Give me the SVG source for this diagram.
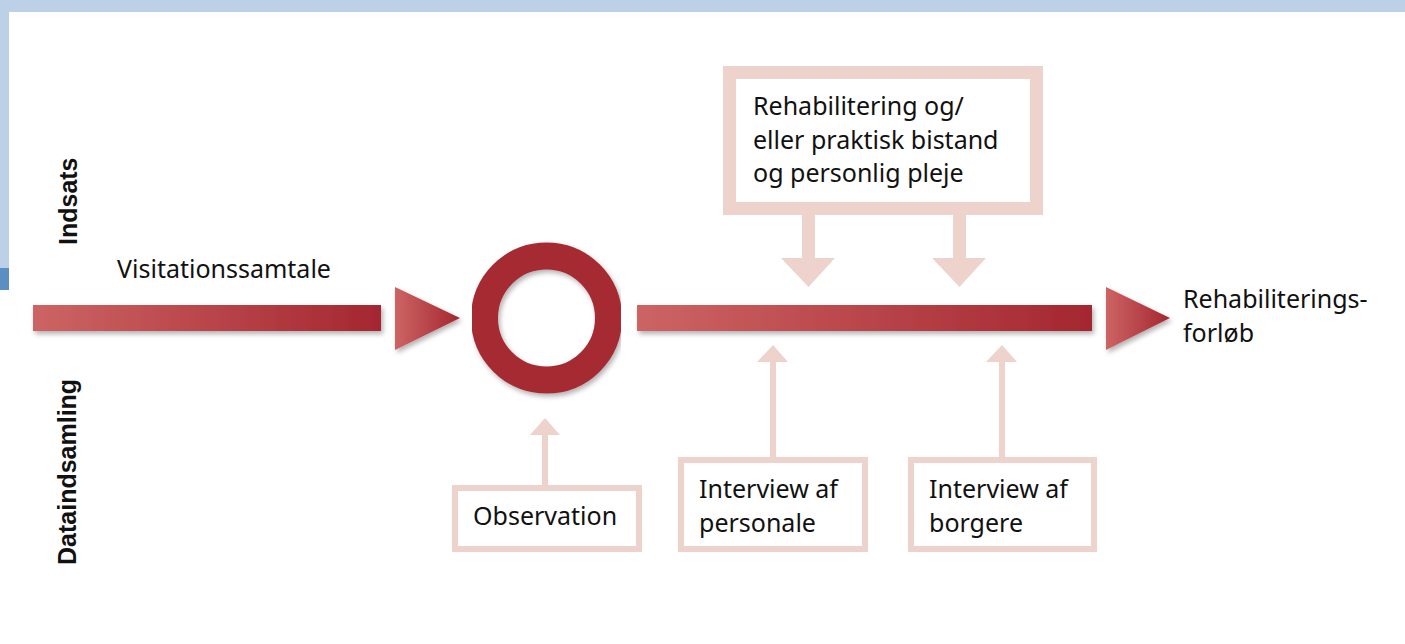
<svg xmlns="http://www.w3.org/2000/svg" width="1405" height="644" viewBox="0 0 1405 644">
<style>
.t{font-family:"Noto Sans","Open Sans",sans-serif;font-size:25px;fill:#111}
.v{font-family:"Liberation Sans",Arial,sans-serif;font-weight:bold;font-size:25px;fill:#111}
.pk{fill:#eed2cc}
.box{fill:#fff;stroke:#eed2cc}
</style>
<defs>
<linearGradient id="bar" x1="0" y1="0" x2="1" y2="0">
<stop offset="0" stop-color="#cd6464"/>
<stop offset="1" stop-color="#a4272f"/>
</linearGradient>
<filter id="sh" x="-10%" y="-20%" width="120%" height="160%">
<feDropShadow dx="2" dy="3" stdDeviation="2.5" flood-color="#000" flood-opacity="0.3"/>
</filter>
</defs>
<rect width="1405" height="644" fill="#fff"/>
<g id="frame">
<rect x="0" y="0" width="1405" height="12" fill="#bcd0e7"/>
<rect x="0" y="0" width="9" height="268" fill="#bcd0e7"/>
<rect x="0" y="268" width="9" height="22" fill="#5b8fc2"/>
</g>
<g id="axis-labels">
<text class="v" transform="translate(77,245) rotate(-90)">Indsats</text>
<text class="v" transform="translate(76,565) rotate(-90)">Dataindsamling</text>
</g>
<g id="connectors">
<rect x="33" y="305" width="348" height="26" fill="url(#bar)" filter="url(#sh)"/>
<polygon points="395,287 460,318 395,350" fill="url(#bar)" filter="url(#sh)"/>
<rect x="637" y="305" width="455" height="26" fill="url(#bar)" filter="url(#sh)"/>
<polygon points="1106,287 1170,318 1106,350" fill="url(#bar)" filter="url(#sh)"/>
<path class="pk" d="M802,215 H815 V258 H835 L808.5,287 L781,258 H802 Z"/>
<path class="pk" d="M953,215 H966 V258 H986 L959.5,287 L932,258 H953 Z"/>
<path class="pk" d="M542,485 V435 H530 L545,418 L560,435 H548 V485 Z"/>
<path class="pk" d="M770,457 V362 H757 L773,345 L788,362 H776 V457 Z"/>
<path class="pk" d="M999,457 V362 H986 L1002,345 L1017,362 H1005 V457 Z"/>
</g>
<g id="visitationssamtale">
<text class="t" x="117" y="278">Visitationssamtale</text>
</g>
<g id="ring">
<circle cx="546.5" cy="318" r="62" fill="none" stroke="#a52a33" stroke-width="27" filter="url(#sh)"/>
</g>
<g id="indsats-box">
<rect class="box" x="729.5" y="72.5" width="307" height="136" stroke-width="13"/>
<text class="t" x="753" y="115">Rehabilitering og/</text>
<text class="t" x="753" y="149">eller praktisk bistand</text>
<text class="t" x="753" y="182">og personlig pleje</text>
</g>
<g id="rehabiliteringsforloeb">
<text class="t" x="1183" y="308">Rehabiliterings-</text>
<text class="t" x="1183" y="342">forløb</text>
</g>
<g id="observation">
<rect class="box" x="455" y="488" width="184" height="61" stroke-width="6"/>
<text class="t" x="473" y="525">Observation</text>
</g>
<g id="interview-personale">
<rect class="box" x="681" y="460" width="184" height="89" stroke-width="6"/>
<text class="t" x="699" y="498">Interview af</text>
<text class="t" x="699" y="532">personale</text>
</g>
<g id="interview-borgere">
<rect class="box" x="911" y="460" width="183" height="89" stroke-width="6"/>
<text class="t" x="929" y="498">Interview af</text>
<text class="t" x="929" y="532">borgere</text>
</g>
</svg>
